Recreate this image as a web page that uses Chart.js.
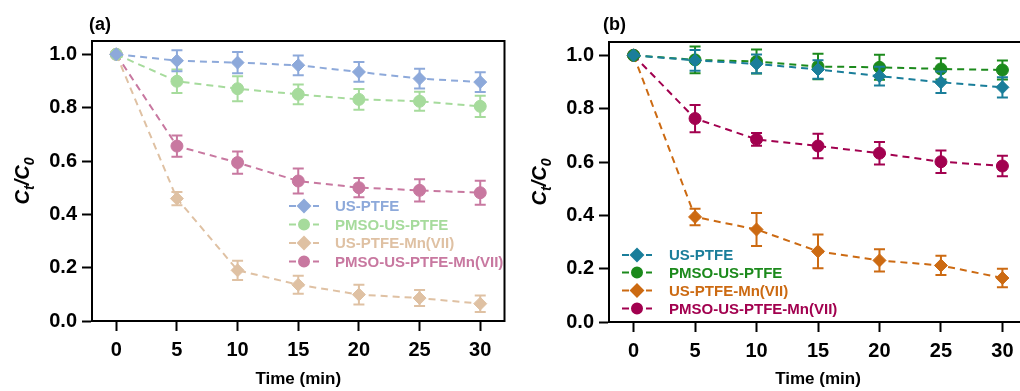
<!DOCTYPE html>
<html>
<head>
<meta charset="utf-8">
<script src="https://cdn.jsdelivr.net/npm/chart.js@4.4.1/dist/chart.umd.min.js"></script>
<style>
  html, body { margin: 0; padding: 0; background: #fff; overflow: hidden; width: 1020px; height: 391px; }
  canvas { position: absolute; top: 0; }
  #chart-a { left: 0; }
  #chart-b { left: 512px; }
</style>
</head>
<body>
<canvas id="chart-a" width="512" height="391"></canvas>
<canvas id="chart-b" width="560" height="391"></canvas>
<script>
const FONT = "'Liberation Sans', Arial, sans-serif";

// sampling times (min)
const timeMin = [0, 5, 10, 15, 20, 25, 30];

const seriesNames = ["US-PTFE", "PMSO-US-PTFE", "US-PTFE-Mn(VII)", "PMSO-US-PTFE-Mn(VII)"];

// (a) Ct/C0 and std. deviation
const aUsPtfe = [1.0, 0.976, 0.969, 0.959, 0.934, 0.909, 0.896];
const aUsPtfeErr = [0, 0.039, 0.04, 0.037, 0.037, 0.037, 0.037];
const aPmso = [1.0, 0.899, 0.871, 0.85, 0.831, 0.824, 0.805];
const aPmsoErr = [0, 0.044, 0.047, 0.037, 0.039, 0.036, 0.04];
const aUsMn = [1.0, 0.459, 0.19, 0.136, 0.099, 0.086, 0.065];
const aUsMnErr = [0, 0.025, 0.036, 0.034, 0.037, 0.03, 0.031];
const aPmsoMn = [1.0, 0.656, 0.594, 0.525, 0.5, 0.49, 0.481];
const aPmsoMnErr = [0, 0.04, 0.042, 0.047, 0.036, 0.042, 0.045];

// (b) Ct/C0 and std. deviation
const bUsPtfe = [1.0, 0.981, 0.968, 0.947, 0.922, 0.899, 0.88];
const bUsPtfeErr = [0, 0.039, 0.035, 0.035, 0.035, 0.04, 0.038];
const bPmso = [1.0, 0.983, 0.977, 0.958, 0.955, 0.949, 0.945];
const bPmsoErr = [0, 0.05, 0.045, 0.048, 0.047, 0.04, 0.036];
const bUsMn = [1.0, 0.394, 0.347, 0.265, 0.231, 0.212, 0.165];
const bUsMnErr = [0, 0.031, 0.062, 0.063, 0.042, 0.036, 0.035];
const bPmsoMn = [1.0, 0.763, 0.685, 0.66, 0.633, 0.601, 0.585];
const bPmsoMnErr = [0, 0.051, 0.024, 0.046, 0.042, 0.042, 0.038];

const xTicks = [0, 5, 10, 15, 20, 25, 30];
const yTicks = [0, 0.2, 0.4, 0.6, 0.8, 1.0];

function toPoints(ys) {
  return timeMin.map((t, i) => ({ x: t, y: ys[i] }));
}

function series(label, ys, errs, color, shape) {
  return {
    label: label,
    data: toPoints(ys),
    errors: errs,
    borderColor: color,
    backgroundColor: color,
    borderWidth: 2,
    borderDash: [7, 5],
    tension: 0,
    fill: false,
    pointStyle: shape,
    pointRadius: shape === "circle" ? 6 : 6.5,
    pointBorderWidth: 1,
    pointBackgroundColor: color,
    pointBorderColor: color,
  };
}

// vertical error bars with caps, drawn under each dataset
const errorBars = {
  id: "errorBars",
  beforeDatasetDraw(chart, args) {
    const ds = chart.data.datasets[args.index];
    if (!ds.errors) return;
    const y = chart.scales.y;
    const ctx = chart.ctx;
    ctx.save();
    ctx.strokeStyle = ds.borderColor;
    ctx.lineWidth = 2;
    args.meta.data.forEach((pt, i) => {
      const e = ds.errors[i];
      if (!e) return;
      const v = ds.data[i].y;
      const top = y.getPixelForValue(v + e);
      const bot = y.getPixelForValue(v - e);
      ctx.beginPath();
      ctx.moveTo(pt.x, top);
      ctx.lineTo(pt.x, bot);
      ctx.moveTo(pt.x - 5.5, top);
      ctx.lineTo(pt.x + 5.5, top);
      ctx.moveTo(pt.x - 5.5, bot);
      ctx.lineTo(pt.x + 5.5, bot);
      ctx.stroke();
    });
    ctx.restore();
  },
};

// closes the box: top and right edges
const frame = {
  id: "frame",
  afterDraw(chart) {
    const { ctx, chartArea: a } = chart;
    ctx.save();
    ctx.strokeStyle = "#000";
    ctx.lineWidth = 2;
    ctx.beginPath();
    ctx.moveTo(a.left - 1, a.top);
    ctx.lineTo(a.right, a.top);
    ctx.lineTo(a.right, a.bottom + 1);
    ctx.stroke();
    ctx.restore();
  },
};

// panel tag and rotated Ct/C0 axis title
const panelText = {
  id: "panelText",
  afterDraw(chart, args, opts) {
    const { ctx, chartArea: a } = chart;
    ctx.save();
    ctx.fillStyle = "#000";
    ctx.font = "bold 18px " + FONT;
    ctx.textBaseline = "alphabetic";
    ctx.textAlign = "left";
    ctx.fillText(opts.tag, a.left + opts.tagX, 30);

    const parts = [
      { t: "C", size: 20, sub: false },
      { t: "t", size: 14, sub: true },
      { t: "/", size: 20, sub: false },
      { t: "C", size: 20, sub: false },
      { t: "0", size: 14, sub: true },
    ];
    let w = 0;
    parts.forEach((p) => {
      ctx.font = "italic bold " + p.size + "px " + FONT;
      p.w = ctx.measureText(p.t).width;
      w += p.w;
    });
    ctx.translate(a.left + opts.titleX, (a.top + a.bottom) / 2);
    ctx.rotate(-Math.PI / 2);
    let x = -w / 2;
    parts.forEach((p) => {
      ctx.font = "italic bold " + p.size + "px " + FONT;
      ctx.fillText(p.t, x, p.sub ? 12 : 7);
      x += p.w;
    });
    ctx.restore();
  },
};

// legend inside the plot: dashed sample with marker, then coloured name
const innerLegend = {
  id: "innerLegend",
  afterDraw(chart, args, opts) {
    const ctx = chart.ctx;
    ctx.save();
    chart.data.datasets.forEach((ds, i) => {
      const y = opts.rows[i];
      ctx.strokeStyle = ds.borderColor;
      ctx.lineWidth = 2;
      ctx.setLineDash([7, 5]);
      ctx.beginPath();
      ctx.moveTo(opts.x0, y);
      ctx.lineTo(opts.x1, y);
      ctx.stroke();
      ctx.setLineDash([]);
      ctx.fillStyle = ds.borderColor;
      Chart.helpers.drawPoint(ctx, {
        pointStyle: ds.pointStyle,
        radius: ds.pointStyle === "circle" ? 5 : 6,
        rotation: 0,
        borderWidth: 1,
      }, (opts.x0 + opts.x1) / 2, y);
      ctx.font = "bold 15px " + FONT;
      ctx.textBaseline = "middle";
      ctx.textAlign = "left";
      ctx.fillText(ds.label, opts.textX, y + 1);
    });
    ctx.restore();
  },
};

function buildScales(yWidth, xHeight) {
  const tickFont = { family: FONT, size: 20, weight: "bold" };
  const grid = {
    drawOnChartArea: false,
    drawTicks: true,
    tickLength: 10,
    tickWidth: 2,
    tickColor: "#000",
    color: "#000",
  };
  return {
    x: {
      type: "linear",
      min: -2,
      max: 32,
      afterFit: (s) => { s.height = xHeight; },
      afterBuildTicks: (s) => { s.ticks = xTicks.map((v) => ({ value: v })); },
      border: { display: true, width: 2, color: "#000" },
      grid: grid,
      ticks: { color: "#000", padding: 7, maxRotation: 0, autoSkip: false, font: tickFont },
      title: {
        display: true,
        text: "Time (min)",
        color: "#000",
        font: { family: FONT, size: 17, weight: "bold" },
        padding: { top: 0, bottom: 1 },
      },
    },
    y: {
      type: "linear",
      min: 0,
      max: 1.05,
      afterFit: (s) => { s.width = yWidth; },
      afterBuildTicks: (s) => { s.ticks = yTicks.map((v) => ({ value: v })); },
      border: { display: true, width: 2, color: "#000" },
      grid: grid,
      ticks: {
        color: "#000",
        padding: 5,
        font: tickFont,
        callback: (v) => Number(v).toFixed(1),
      },
    },
  };
}

function makeChart(id, datasets, cfg) {
  return new Chart(document.getElementById(id).getContext("2d"), {
    type: "line",
    data: { datasets: datasets },
    options: {
      responsive: false,
      animation: false,
      events: [],
      layout: { padding: { top: cfg.top, right: cfg.right, left: 0, bottom: 0 } },
      scales: buildScales(cfg.yWidth, cfg.xHeight),
      plugins: {
        legend: { display: false },
        tooltip: { enabled: false },
        panelText: { tag: cfg.tag, tagX: cfg.tagX, titleX: -70.5 },
        innerLegend: cfg.legend,
      },
    },
    plugins: [errorBars, frame, panelText, innerLegend],
  });
}

makeChart("chart-a", [
  series(seriesNames[0], aUsPtfe, aUsPtfeErr, "#8DA9DA", "rectRot"),
  series(seriesNames[1], aPmso, aPmsoErr, "#A6DB9C", "circle"),
  series(seriesNames[2], aUsMn, aUsMnErr, "#DFC1A3", "rectRot"),
  series(seriesNames[3], aPmsoMn, aPmsoMnErr, "#C878A0", "circle"),
], {
  top: 41, right: 1, yWidth: 92, xHeight: 70, tag: "(a)", tagX: -3,
  legend: { x0: 289, x1: 319, textX: 335, rows: [206, 224.5, 243, 261.5] },
});

// right edge of this box lies past the page edge
makeChart("chart-b", [
  series(seriesNames[0], bUsPtfe, bUsPtfeErr, "#1A7E9A", "rectRot"),
  series(seriesNames[1], bPmso, bPmsoErr, "#1C8A1C", "circle"),
  series(seriesNames[2], bUsMn, bUsMnErr, "#CC6A12", "rectRot"),
  series(seriesNames[3], bPmsoMn, bPmsoMnErr, "#A2014F", "circle"),
], {
  top: 42, right: 45, yWidth: 97, xHeight: 69, tag: "(b)", tagX: -6,
  legend: { x0: 110, x1: 140, textX: 157, rows: [255, 272.5, 290.5, 308.5] },
});
</script>
</body>
</html>
